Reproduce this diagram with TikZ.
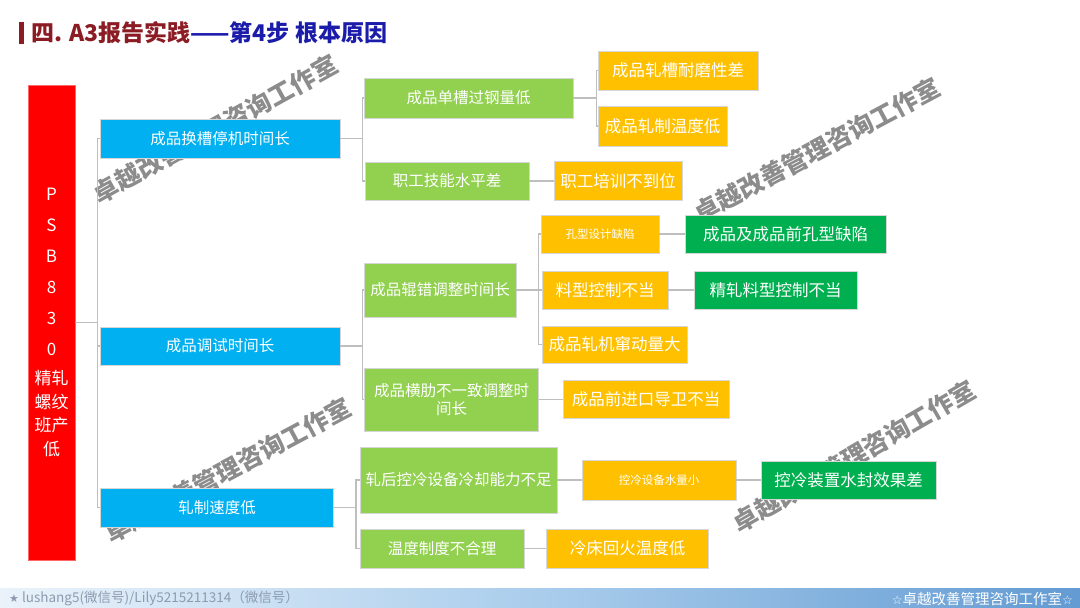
\documentclass[tikz,border=0pt]{standalone}
\usepackage{fontspec}
\setmainfont{Noto Sans CJK SC}
\newfontfamily\symfont{DejaVu Sans}
\definecolor{cred}{RGB}{255,0,0}
\definecolor{cblue}{RGB}{0,176,240}
\definecolor{cgreen}{RGB}{146,208,80}
\definecolor{corange}{RGB}{255,192,0}
\definecolor{cdgreen}{RGB}{0,176,80}
\definecolor{cline}{RGB}{190,190,190}
\definecolor{ttlred}{RGB}{140,28,36}
\definecolor{ttlblue}{RGB}{28,28,170}
\definecolor{barlight}{RGB}{170,205,236}
\definecolor{bardark}{RGB}{28,104,184}
\definecolor{foottext}{RGB}{140,155,175}
\pgfdeclarehorizontalshading{barshade}{100bp}{color(0bp)=(white); color(20bp)=(white!90!barlight); color(50bp)=(barlight); color(100bp)=(bardark)}
\tikzset{
  base/.style={inner sep=0pt, text=white, draw=black!16, line width=0.8pt, align=center, font=\fontsize{15.5}{18.5}\selectfont},
  bluebox/.style={base, fill=cblue},
  greenbox/.style={base, fill=cgreen},
  orangebox/.style={base, fill=corange, font=\fontsize{16.5}{19}\selectfont},
  smallorange/.style={base, fill=corange, font=\fontsize{11.5}{14}\selectfont},
  dgreenbox/.style={base, fill=cdgreen, font=\fontsize{16.5}{19}\selectfont},
  redbox/.style={base, fill=cred, draw=cred!60!white, font=\fontsize{17}{23.5}\selectfont},
  conn/.style={draw=cline, line width=1.5pt},
  wm/.style={inner sep=0pt, text=black!45, font=\fontsize{25}{25}\selectfont\bfseries}
}
\begin{document}
\begin{tikzpicture}[x=1pt,y=-1pt]
\useasboundingbox (0,0) rectangle (1080,608);
\fill[white] (0,0) rectangle (1080,608);

% watermarks
\node[wm, rotate=29] (W1) at (215,129) {卓越改善管理咨询工作室};
\node[wm, rotate=28] (W2) at (817,150) {卓越改善管理咨询工作室};
\node[wm, rotate=28] (W3) at (228,470) {卓越改善管理咨询工作室};
\node[wm, rotate=30] (W4) at (854,456) {卓越改善管理咨询工作室};

% title
\fill[ttlred] (19,22) rectangle (23.5,44);
\node[anchor=west, inner sep=0pt, font=\fontsize{23}{23}\selectfont\bfseries] (T) at (31,33)
  {\textcolor{ttlred}{四. A3报告实践}\textcolor{ttlblue}{——第4步 根本原因}};

% root
\node[redbox, minimum width=47pt, minimum height=475pt] (R) at (51.5,322.5)
  {P\\[7.5pt]S\\[7.5pt]B\\[7.5pt]8\\[7.5pt]3\\[7.5pt]0\\[5.5pt]精轧\\螺纹\\班产\\低};

% level 1
\node[bluebox, minimum width=240pt, minimum height=39pt] (B1) at (220,138.5) {成品换槽停机时间长};
\node[bluebox, minimum width=240pt, minimum height=38pt] (B2) at (220,346) {成品调试时间长};
\node[bluebox, minimum width=233pt, minimum height=39pt] (B3) at (217,507.5) {轧制速度低};

% level 2
\node[greenbox, minimum width=209pt, minimum height=40pt] (G1) at (468.5,98) {成品单槽过钢量低};
\node[greenbox, minimum width=164pt, minimum height=38pt] (G2) at (447,181) {职工技能水平差};
\node[greenbox, minimum width=152pt, minimum height=54pt] (G3) at (440,290) {成品辊错调整时间长};
\node[greenbox, minimum width=174pt, minimum height=63pt] (G4) at (451.5,399.5) {成品横肋不一致调整时\\间长};
\node[greenbox, minimum width=197pt, minimum height=66pt] (G5) at (458.5,480) {轧后控冷设备冷却能力不足};
\node[greenbox, minimum width=164pt, minimum height=39pt] (G6) at (442,548.5) {温度制度不合理};

% level 3
\node[orangebox, minimum width=160pt, minimum height=39pt] (O1) at (678,70.5) {成品轧槽耐磨性差};
\node[orangebox, minimum width=129pt, minimum height=40pt] (O2) at (662.5,126) {成品轧制温度低};
\node[orangebox, minimum width=128pt, minimum height=39pt] (O3) at (618,181) {职工培训不到位};
\node[smallorange, minimum width=118pt, minimum height=38pt] (O4) at (600,234) {孔型设计缺陷};
\node[orangebox, minimum width=126pt, minimum height=38pt] (O5) at (605,290) {料型控制不当};
\node[orangebox, minimum width=145pt, minimum height=37pt] (O6) at (614.5,344.5) {成品轧机窜动量大};
\node[orangebox, minimum width=166pt, minimum height=38pt] (O7) at (646,399.5) {成品前进口导卫不当};
\node[smallorange, minimum width=154pt, minimum height=40pt] (O8) at (659,480) {控冷设备水量小};
\node[orangebox, minimum width=162pt, minimum height=39pt] (O9) at (627.5,548.5) {冷床回火温度低};

% level 4
\node[dgreenbox, minimum width=201pt, minimum height=38pt] (D1) at (785.5,234) {成品及成品前孔型缺陷};
\node[dgreenbox, minimum width=163pt, minimum height=38pt] (D2) at (775.5,290) {精轧料型控制不当};
\node[dgreenbox, minimum width=175pt, minimum height=38pt] (D3) at (848.5,480) {控冷装置水封效果差};

% connectors
\draw[conn] (R.east) -- ++(22,0) |- (B1.west);
\draw[conn] (R.east) -- ++(22,0) |- (B2.west);
\draw[conn] (R.east) -- ++(22,0) |- (B3.west);
\draw[conn] (B1.east) -- ++(22,0) |- (G1.west);
\draw[conn] (B1.east) -- ++(22,0) |- (G2.west);
\draw[conn] (B2.east) -- ++(22,0) |- (G3.west);
\draw[conn] (B2.east) -- ++(22,0) |- (G4.west);
\draw[conn] (B3.east) -- ++(22,0) |- (G5.west);
\draw[conn] (B3.east) -- ++(22,0) |- (G6.west);
\draw[conn] (G1.east) -- ++(23,0) |- (O1.west);
\draw[conn] (G1.east) -- ++(23,0) |- (O2.west);
\draw[conn] (G2.east) -- (O3.west);
\draw[conn] (G3.east) -- ++(22,0) |- (O4.west);
\draw[conn] (G3.east) -- ++(22,0) |- (O5.west);
\draw[conn] (G3.east) -- ++(22,0) |- (O6.west);
\draw[conn] (G4.east) -- (O7.west);
\draw[conn] (G5.east) -- (O8.west);
\draw[conn] (G6.east) -- (O9.west);
\draw[conn] (O4.east) -- (D1.west);
\draw[conn] (O5.east) -- (D2.west);
\draw[conn] (O8.east) -- (D3.west);

% footer bar
\shade[shading=barshade] (0,588) rectangle (1080,608);
\node[anchor=west, inner sep=0pt, text=foottext, font=\fontsize{13.5}{14}\selectfont] (F1) at (9,598.5)
  {{\symfont\fontsize{11}{12}\selectfont ★} lushang5(微信号)/Lily5215211314（微信号）};
\node[anchor=east, inner sep=0pt, text=white, font=\fontsize{14.5}{15}\selectfont] (F2) at (1073,598.5)
  {{\symfont\fontsize{12}{13}\selectfont ☆}卓越改善管理咨询工作室{\symfont\fontsize{12}{13}\selectfont ☆}};
\end{tikzpicture}
\end{document}
